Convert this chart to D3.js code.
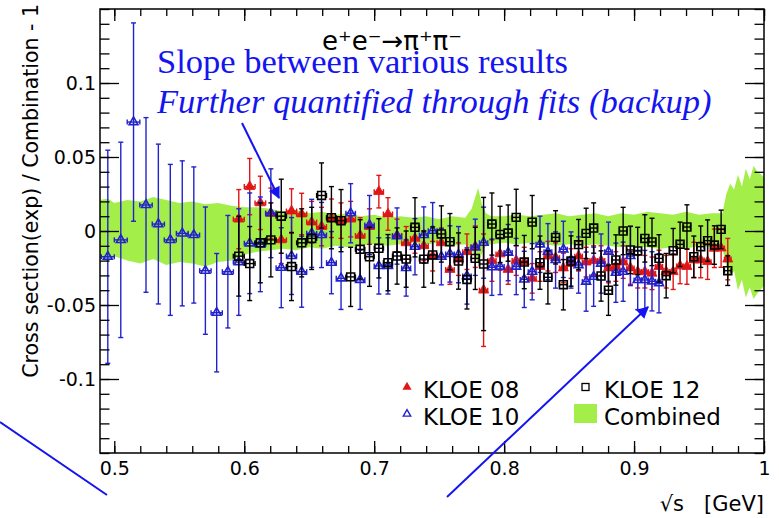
<!DOCTYPE html>
<html>
<head>
<meta charset="utf-8">
<script src="https://cdn.jsdelivr.net/npm/d3@7"></script>
<style>
  body { margin: 0; background: #fff; }
  svg { display: block; }
</style>
</head>
<body>
<svg id="chart" width="779" height="518"></svg>
<script>
// sqrt(s) bin centres [GeV] of KLOE 08 / KLOE 12
var sqrtS = [0.5958, 0.6042, 0.6124, 0.6205, 0.6285, 0.6364, 0.6442, 0.6519, 0.6595, 0.6671,
             0.6745, 0.6819, 0.6892, 0.6964, 0.7036, 0.7106, 0.7176, 0.7246, 0.7314, 0.7382,
             0.7450, 0.7517, 0.7583, 0.7649, 0.7714, 0.7778, 0.7842, 0.7906, 0.7969, 0.8031,
             0.8093, 0.8155, 0.8216, 0.8276, 0.8337, 0.8396, 0.8456, 0.8515, 0.8573, 0.8631,
             0.8689, 0.8746, 0.8803, 0.8860, 0.8916, 0.8972, 0.9028, 0.9083, 0.9138, 0.9192,
             0.9247, 0.9301, 0.9354, 0.9407, 0.9460, 0.9513, 0.9566, 0.9618, 0.9670, 0.9721];
// sqrt(s) bin centres of KLOE 10
var sqrtS10 = [0.4950, 0.5050, 0.5148, 0.5244, 0.5339, 0.5431, 0.5523, 0.5612, 0.5701, 0.5788,
               0.5874, 0.5958, 0.6042, 0.6124, 0.6205, 0.6285, 0.6364, 0.6442, 0.6519, 0.6595,
               0.6671, 0.6745, 0.6819, 0.6892, 0.6964, 0.7036, 0.7106, 0.7176, 0.7246, 0.7314,
               0.7382, 0.7450, 0.7517, 0.7583, 0.7649, 0.7714, 0.7778, 0.7842, 0.7906, 0.7969,
               0.8031, 0.8093, 0.8155, 0.8216, 0.8276, 0.8337, 0.8396, 0.8456, 0.8515, 0.8573,
               0.8631, 0.8689, 0.8746, 0.8803, 0.8860, 0.8916, 0.8972, 0.9028, 0.9083, 0.9138,
               0.9192];

// relative deviation from the combination, and errors
var kloe08 = [0.008, 0.030, 0.019, 0.012, -0.006, 0.0135, 0.0115, 0.006, 0.003, 0.0086,
              0.007, 0.008, -0.003, 0.003, 0.0266, 0.0115, -0.003, -0.008, -0.005, -0.010,
              -0.017, -0.008, -0.026, -0.019, -0.014, -0.0106, -0.040, -0.020, -0.0155, -0.026,
              -0.020, -0.021, -0.032, -0.024, -0.017, -0.018, -0.025, -0.022, -0.017, -0.021,
              -0.020, -0.020, -0.025, -0.024, -0.021, -0.025, -0.0275, -0.0275, -0.0286, -0.024,
              -0.0275, -0.0275, -0.0236, -0.024, -0.0196, -0.0196, -0.0207, -0.0117, -0.0115, -0.019];
var err08 = [0.020, 0.019, 0.018, 0.017, 0.016, 0.015, 0.014, 0.014, 0.013, 0.013,
             0.012, 0.012, 0.012, 0.012, 0.011, 0.011, 0.011, 0.011, 0.010, 0.010,
             0.010, 0.010, 0.010, 0.011, 0.012, 0.014, 0.038, 0.014, 0.011, 0.010,
             0.010, 0.010, 0.010, 0.010, 0.010, 0.010, 0.010, 0.010, 0.010, 0.010,
             0.010, 0.010, 0.010, 0.010, 0.011, 0.011, 0.011, 0.011, 0.011, 0.011,
             0.011, 0.012, 0.012, 0.012, 0.012, 0.012, 0.012, 0.013, 0.013, 0.014];

var kloe10 = [-0.0174, -0.006, 0.0736, 0.0176, 0.0047, -0.006, -0.0016, -0.0027, -0.0268, -0.0552,
              -0.0275, -0.021, -0.0083, -0.009, 0.012, -0.0248, -0.0169, -0.0275, -0.0016, -0.0027,
              -0.0214, -0.032, 0.012, -0.033, 0.004, -0.0236, -0.0236, -0.0034, -0.025, -0.0106,
              -0.0027, 0.0002, -0.0174, -0.0155, -0.016, -0.0304, -0.011, -0.0079, -0.0245, -0.024,
              -0.0146, -0.024, -0.0327, -0.0275, -0.009, -0.014, -0.0196, -0.0124, -0.0196, -0.023,
              -0.0342, -0.0309, -0.022, -0.014, -0.0282, -0.0275, -0.0169, -0.0331, -0.0331, -0.034,
              -0.0353];
var err10 = [0.072, 0.066, 0.067, 0.059, 0.054, 0.051, 0.049, 0.046, 0.043, 0.040,
             0.038, 0.036, 0.034, 0.032, 0.030, 0.027, 0.026, 0.024, 0.023, 0.022,
             0.021, 0.021, 0.020, 0.020, 0.020, 0.019, 0.019, 0.019, 0.019, 0.019,
             0.019, 0.019, 0.019, 0.019, 0.019, 0.019, 0.019, 0.024, 0.019, 0.019,
             0.019, 0.019, 0.019, 0.019, 0.019, 0.019, 0.019, 0.019, 0.019, 0.019,
             0.020, 0.020, 0.020, 0.020, 0.020, 0.020, 0.020, 0.020, 0.020, 0.020,
             0.020];

var kloe12 = [-0.017, -0.022, -0.008, -0.006, 0.010, -0.024, -0.008, -0.005, 0.024, 0.009,
              0.007, -0.031, -0.0124, -0.0174, -0.0117, -0.0214, -0.0169, -0.019, 0.0025, -0.019,
              -0.0162, -0.002, -0.0072, -0.0203, -0.0327, -0.0185, -0.0223, 0.0047, -0.0023, -0.0014,
              0.0092, -0.021, 0.006, -0.0214, -0.0313, -0.0043, -0.0363, -0.0203, -0.0092, -0.0016,
              0.002, -0.0304, -0.040, -0.0196, 0.0, -0.0128, -0.0135, -0.005, -0.0074, -0.0185,
              -0.0302, -0.0133, -0.009, 0.0027, -0.0174, -0.0106, -0.0065, -0.0095, 0.0011, -0.0268];
var err12 = [0.027, 0.025, 0.027, 0.025, 0.025, 0.023, 0.023, 0.021, 0.022, 0.021,
             0.021, 0.020, 0.020, 0.020, 0.020, 0.019, 0.019, 0.019, 0.020, 0.019,
             0.019, 0.019, 0.019, 0.019, 0.020, 0.021, 0.045, 0.021, 0.019, 0.019,
             0.019, 0.018, 0.018, 0.018, 0.018, 0.018, 0.017, 0.017, 0.017, 0.017,
             0.017, 0.017, 0.017, 0.017, 0.016, 0.016, 0.016, 0.016, 0.016, 0.016,
             0.015, 0.015, 0.015, 0.015, 0.014, 0.014, 0.014, 0.013, 0.013, 0.010];

// combined uncertainty band
var bandX  = [0.489, 0.495, 0.50, 0.51, 0.52, 0.53, 0.54, 0.55, 0.56, 0.57,
              0.58, 0.59, 0.60, 0.61, 0.62, 0.63, 0.64, 0.65, 0.66, 0.67,
              0.68, 0.69, 0.70, 0.71, 0.72, 0.73, 0.74, 0.75, 0.76, 0.77,
              0.775, 0.78, 0.783, 0.786, 0.79, 0.80, 0.81, 0.82, 0.83, 0.84,
              0.85, 0.86, 0.87, 0.88, 0.89, 0.90, 0.91, 0.92, 0.93, 0.94,
              0.95, 0.96, 0.968, 0.971, 0.974, 0.977, 0.980, 0.983, 0.986, 0.989,
              0.992, 0.995, 0.998, 1.0];
var bandHi = [0.021, 0.022, 0.019, 0.021, 0.020, 0.023, 0.021, 0.019, 0.020, 0.018,
              0.019, 0.017, 0.016, 0.016, 0.015, 0.013, 0.014, 0.012, 0.013, 0.011,
              0.012, 0.010, 0.011, 0.009, 0.010, 0.009, 0.010, 0.008, 0.010, 0.009,
              0.015, 0.029, 0.018, 0.012, 0.010, 0.010, 0.011, 0.010, 0.011, 0.012,
              0.010, 0.011, 0.012, 0.010, 0.012, 0.011, 0.013, 0.012, 0.011, 0.013,
              0.011, 0.012, 0.012, 0.025, 0.032, 0.028, 0.038, 0.030, 0.042, 0.035,
              0.044, 0.040, 0.038, 0.036];
var bandLo = [-0.018, -0.021, -0.017, -0.020, -0.022, -0.019, -0.023, -0.021, -0.022, -0.024,
              -0.021, -0.020, -0.016, -0.014, -0.013, -0.012, -0.013, -0.011, -0.012, -0.010,
              -0.011, -0.010, -0.009, -0.010, -0.009, -0.008, -0.009, -0.008, -0.010, -0.009,
              -0.013, -0.022, -0.015, -0.010, -0.009, -0.008, -0.009, -0.008, -0.009, -0.010,
              -0.009, -0.010, -0.009, -0.010, -0.011, -0.010, -0.011, -0.012, -0.011, -0.012,
              -0.010, -0.011, -0.012, -0.024, -0.030, -0.027, -0.040, -0.033, -0.045, -0.038,
              -0.046, -0.042, -0.039, -0.037];

var xTicks = [0.5, 0.6, 0.7, 0.8, 0.9, 1.0];
var xTickLabels = ["0.5", "0.6", "0.7", "0.8", "0.9", "1"];
var yTicks = [-0.1, -0.05, 0, 0.05, 0.1];
var yTickLabels = ["-0.1", "-0.05", "0", "0.05", "0.1"];

var AXIS_FONT = "DejaVu Sans, Verdana, sans-serif";
var NOTE_FONT = "Liberation Serif, Times New Roman, serif";
var BLUE = "#2222cc", RED = "#e01515", NOTE = "#1414f0", GREEN = "#a4ee4a";

var L = 100, R = 764, T = 9, B = 453;
var x = d3.scaleLinear().domain([0.489, 1.0]).range([L, R]);
var y = d3.scaleLinear().domain([-0.15, 0.15]).range([B, T]);

var svg = d3.select("#chart");

svg.append("clipPath").attr("id", "plotclip")
    .append("rect").attr("x", L).attr("y", T).attr("width", R - L).attr("height", B - T);
var plot = svg.append("g").attr("clip-path", "url(#plotclip)");

// Combined band
var area = d3.area()
    .x(function(d, i) { return x(bandX[i]); })
    .y0(function(d, i) { return y(bandLo[i]); })
    .y1(function(d, i) { return y(bandHi[i]); });
plot.append("path").datum(bandX).attr("d", area).attr("fill", GREEN);

// Draw one data set with x/y error bars
function DrawSet(xs, vals, errs, color, symbol, size, filled) {
    var g = plot.append("g");
    var halfW = function(i) {
        var a = xs[Math.max(i - 1, 0)], b = xs[Math.min(i + 1, xs.length - 1)];
        var n = (i == 0 || i == xs.length - 1) ? 2 : 4;
        return (b - a) / n;
    };
    var pts = g.selectAll("g.pt").data(vals).enter().append("g").attr("class", "pt");
    // vertical bar
    pts.append("line")
        .attr("x1", function(d, i) { return x(xs[i]); })
        .attr("x2", function(d, i) { return x(xs[i]); })
        .attr("y1", function(d, i) { return y(d + errs[i]); })
        .attr("y2", function(d, i) { return y(d - errs[i]); });
    // caps on vertical bar
    [1, -1].forEach(function(sg) {
        pts.append("line")
            .attr("x1", function(d, i) { return x(xs[i]) - 2.5; })
            .attr("x2", function(d, i) { return x(xs[i]) + 2.5; })
            .attr("y1", function(d, i) { return y(d + sg * errs[i]); })
            .attr("y2", function(d, i) { return y(d + sg * errs[i]); });
    });
    // horizontal bar
    pts.append("line")
        .attr("x1", function(d, i) { return x(xs[i] - halfW(i)); })
        .attr("x2", function(d, i) { return x(xs[i] + halfW(i)); })
        .attr("y1", function(d) { return y(d); })
        .attr("y2", function(d) { return y(d); });
    [1, -1].forEach(function(sg) {
        pts.append("line")
            .attr("x1", function(d, i) { return x(xs[i] + sg * halfW(i)); })
            .attr("x2", function(d, i) { return x(xs[i] + sg * halfW(i)); })
            .attr("y1", function(d) { return y(d) - 2.5; })
            .attr("y2", function(d) { return y(d) + 2.5; });
    });
    pts.selectAll("line").attr("stroke", color).attr("stroke-width", 1.4);
    pts.append("path")
        .attr("transform", function(d, i) { return "translate(" + x(xs[i]) + "," + y(d) + ")"; })
        .attr("d", d3.symbol().type(symbol).size(size))
        .attr("fill", filled ? color : "none")
        .attr("stroke", color)
        .attr("stroke-width", filled ? 0.8 : 1.6);
}

DrawSet(sqrtS, kloe08, err08, RED, d3.symbolTriangle, 44, true);
DrawSet(sqrtS10, kloe10, err10, BLUE, d3.symbolTriangle, 34, false);
DrawSet(sqrtS, kloe12, err12, "#000", d3.symbolSquare, 62, false);

// Axes: ticks inside on all four sides
var xMinor = d3.range(0.5, 1.001, 0.02);
var yMinor = d3.range(-0.15, 0.1501, 0.01);
function styleAxis(g) {
    g.select(".domain").remove();
    g.selectAll("line").attr("stroke", "#000").attr("stroke-width", 1.3);
    g.selectAll("text").attr("font-family", AXIS_FONT).attr("font-size", 19).attr("fill", "#000");
}
svg.append("g").attr("transform", "translate(0," + B + ")")
    .call(d3.axisBottom(x).tickValues(xMinor).tickSize(-7).tickFormat("")).call(styleAxis);
svg.append("g").attr("transform", "translate(0," + B + ")")
    .call(d3.axisBottom(x).tickValues(xTicks).tickSize(-12).tickPadding(9)
        .tickFormat(function(d, i) { return xTickLabels[i]; })).call(styleAxis);
svg.append("g").attr("transform", "translate(0," + T + ")")
    .call(d3.axisTop(x).tickValues(xMinor).tickSize(-7).tickFormat("")).call(styleAxis);
svg.append("g").attr("transform", "translate(0," + T + ")")
    .call(d3.axisTop(x).tickValues(xTicks).tickSize(-12).tickFormat("")).call(styleAxis);
svg.append("g").attr("transform", "translate(" + L + ",0)")
    .call(d3.axisLeft(y).tickValues(yMinor).tickSize(-9.5).tickFormat("")).call(styleAxis);
svg.append("g").attr("transform", "translate(" + L + ",0)")
    .call(d3.axisLeft(y).tickValues(yTicks).tickSize(-19).tickPadding(4)
        .tickFormat(function(d, i) { return yTickLabels[i]; })).call(styleAxis);
svg.append("g").attr("transform", "translate(" + R + ",0)")
    .call(d3.axisRight(y).tickValues(yMinor).tickSize(-9.5).tickFormat("")).call(styleAxis);
svg.append("g").attr("transform", "translate(" + R + ",0)")
    .call(d3.axisRight(y).tickValues(yTicks).tickSize(-19).tickFormat("")).call(styleAxis);

svg.append("rect").attr("x", L).attr("y", T).attr("width", R - L).attr("height", B - T)
    .attr("fill", "none").attr("stroke", "#000").attr("stroke-width", 1.5);

// Axis titles
svg.append("text")
    .attr("transform", "translate(38,4) rotate(-90)")
    .attr("text-anchor", "end")
    .attr("font-family", AXIS_FONT).attr("font-size", 20.5)
    .text("Cross section(exp) / Combination - 1");
svg.append("text")
    .attr("x", R).attr("y", 511).attr("text-anchor", "end")
    .attr("font-family", AXIS_FONT).attr("font-size", 21)
    .attr("xml:space", "preserve")
    .text("\u221As   [GeV]");

// Process title
svg.append("text").attr("x", 392).attr("y", 50).attr("text-anchor", "middle")
    .attr("font-family", AXIS_FONT).attr("font-size", 26)
    .text("e\u207Ae\u207B\u2192\u03C0\u207A\u03C0\u207B");

// Legend
var legendY = [387, 414];
var leg = svg.append("g").attr("font-family", AXIS_FONT).attr("font-size", 23);
leg.append("path").attr("transform", "translate(407," + legendY[0] + ")")
    .attr("d", d3.symbol().type(d3.symbolTriangle).size(36)).attr("fill", RED);
leg.append("text").attr("x", 423).attr("y", legendY[0] + 11).text("KLOE 08");
leg.append("path").attr("transform", "translate(407," + legendY[1] + ")")
    .attr("d", d3.symbol().type(d3.symbolTriangle).size(24))
    .attr("fill", "none").attr("stroke", BLUE).attr("stroke-width", 1.4);
leg.append("text").attr("x", 423).attr("y", legendY[1] + 11).text("KLOE 10");
leg.append("rect").attr("x", 582).attr("y", legendY[0] - 3.5).attr("width", 7).attr("height", 7)
    .attr("fill", "none").attr("stroke", "#000").attr("stroke-width", 1.3);
leg.append("text").attr("x", 604).attr("y", legendY[0] + 11).text("KLOE 12");
leg.append("rect").attr("x", 574).attr("y", 404).attr("width", 23).attr("height", 19).attr("fill", GREEN);
leg.append("text").attr("x", 604).attr("y", legendY[1] + 11).text("Combined");

// Annotations
var notes = svg.append("g").attr("font-family", NOTE_FONT).attr("font-size", 34.5).attr("fill", NOTE);
notes.append("text").attr("x", 157).attr("y", 73).text("Slope between various results");
notes.append("text").attr("x", 157).attr("y", 113).attr("font-style", "italic")
    .text("Further quantified through fits (backup)");

svg.append("defs").append("marker")
    .attr("id", "head").attr("viewBox", "0 0 10 10").attr("refX", 9).attr("refY", 5)
    .attr("markerWidth", 7).attr("markerHeight", 6).attr("orient", "auto")
    .append("path").attr("d", "M0,0 L10,5 L0,10 z").attr("fill", NOTE);
var arrows = [[242, 123, 279, 198], [447, 497, 648, 307]];
svg.selectAll("line.arrow").data(arrows).enter().append("line").attr("class", "arrow")
    .attr("x1", function(d) { return d[0]; }).attr("y1", function(d) { return d[1]; })
    .attr("x2", function(d) { return d[2]; }).attr("y2", function(d) { return d[3]; })
    .attr("stroke", NOTE).attr("stroke-width", 2).attr("marker-end", "url(#head)");
svg.append("line").attr("x1", 0).attr("y1", 422).attr("x2", 107).attr("y2", 495)
    .attr("stroke", NOTE).attr("stroke-width", 2);
</script>
</body>
</html>
